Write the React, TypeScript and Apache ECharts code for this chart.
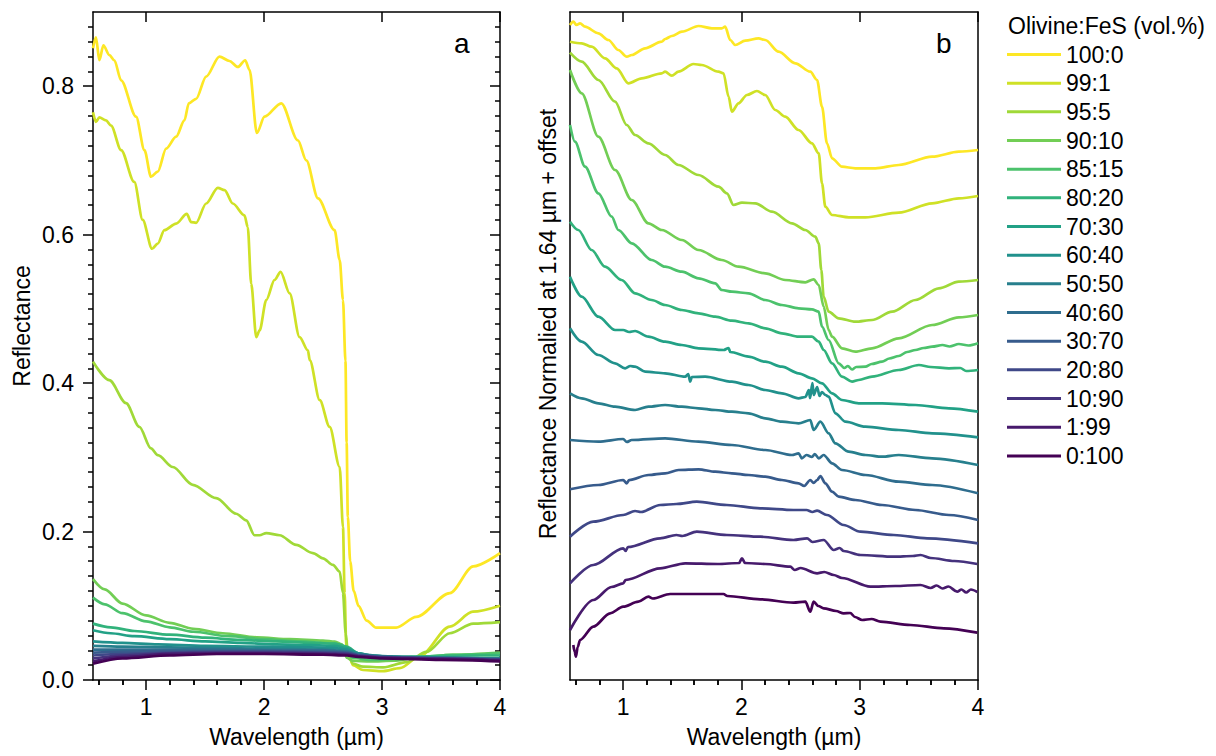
import React, { useEffect, useRef } from "react";
import * as echarts from "echarts";

const FONT = 'Arial, "Liberation Sans", Helvetica, sans-serif';

// Sample names (Olivine:FeS vol.%)
const ratios = ["100:0", "99:1", "95:5", "90:10", "85:15", "80:20", "70:30", "60:40", "50:50", "40:60", "30:70", "20:80", "10:90", "1:99", "0:100"];

// Tick values
const wavelengthMajor = [1, 2, 3, 4];
const wavelengthMinor = [0.6, 0.8, 1.2, 1.4, 1.6, 1.8, 2.2, 2.4, 2.6, 2.8, 3.2, 3.4, 3.6, 3.8];
const reflMajor = [0, 0.2, 0.4, 0.6, 0.8];

// ---- Panel a: absolute reflectance [wavelength µm, reflectance] ----
const a100 = [[0.55,0.851],[0.575,0.866],[0.604,0.835],[0.638,0.855],[0.689,0.842],[0.731,0.835],[0.788,0.808],[0.915,0.759],[0.986,0.714],[1.042,0.678],[1.099,0.685],[1.17,0.716],[1.255,0.732],[1.325,0.754],[1.362,0.777],[1.424,0.783],[1.509,0.813],[1.622,0.840],[1.707,0.834],[1.778,0.826],[1.84,0.835],[1.877,0.822],[1.939,0.737],[2.004,0.759],[2.146,0.777],[2.287,0.727],[2.358,0.700],[2.457,0.649],[2.598,0.606],[2.641,0.566],[2.669,0.512],[2.69,0.43],[2.70,0.32],[2.71,0.22],[2.73,0.16],[2.76,0.12],[2.80,0.10],[2.87,0.08],[2.95,0.0705],[3.12,0.0705],[3.29,0.085],[3.575,0.117],[3.773,0.153],[4.0,0.171]];
const a99 = [[0.55,0.765],[0.575,0.752],[0.604,0.758],[0.66,0.754],[0.703,0.747],[0.788,0.714],[0.90,0.671],[0.971,0.620],[1.051,0.581],[1.099,0.588],[1.155,0.606],[1.255,0.615],[1.345,0.628],[1.382,0.617],[1.424,0.616],[1.509,0.642],[1.608,0.663],[1.665,0.660],[1.735,0.642],[1.834,0.626],[1.862,0.610],[1.891,0.534],[1.934,0.462],[1.962,0.471],[2.019,0.512],[2.089,0.539],[2.14,0.550],[2.217,0.521],[2.301,0.462],[2.372,0.444],[2.387,0.431],[2.472,0.377],[2.556,0.341],[2.641,0.287],[2.669,0.206],[2.683,0.117],[2.697,0.045],[2.754,0.020],[2.839,0.0135],[3.009,0.012],[3.15,0.016],[3.32,0.032],[3.575,0.072],[3.77,0.092],[4.0,0.100]];
const a95 = [[0.55,0.429],[0.688,0.404],[0.83,0.373],[0.943,0.341],[1.042,0.312],[1.099,0.303],[1.226,0.287],[1.396,0.263],[1.594,0.245],[1.764,0.224],[1.849,0.215],[1.919,0.195],[1.962,0.195],[2.019,0.198],[2.132,0.195],[2.273,0.182],[2.414,0.171],[2.499,0.164],[2.584,0.155],[2.641,0.146],[2.669,0.117],[2.692,0.063],[2.711,0.035],[2.754,0.022],[2.839,0.018],[3.009,0.017],[3.207,0.024],[3.377,0.038],[3.575,0.063],[3.773,0.076],[4.0,0.078]];
const a90 = [[0.55,0.136],[0.65,0.122],[0.80,0.103],[1.0,0.087],[1.2,0.077],[1.4,0.069],[1.65,0.063],[1.94,0.0575],[2.22,0.055],[2.5,0.053],[2.6,0.0516],[2.66,0.048],[2.68,0.040],[2.7,0.030],[2.75,0.026],[2.9,0.025],[3.1,0.026],[3.3,0.030],[3.6,0.034],[4.0,0.037]];
const a85 = [[0.55,0.111],[0.65,0.102],[0.8,0.090],[1.0,0.079],[1.2,0.071],[1.4,0.065],[1.7,0.059],[2.0,0.055],[2.3,0.052],[2.6,0.049],[2.66,0.047],[2.7,0.038],[2.75,0.030],[2.9,0.027],[3.1,0.028],[3.3,0.031],[3.6,0.034],[4.0,0.036]];
const a80 = [[0.55,0.076],[0.7,0.071],[0.9,0.066],[1.2,0.061],[1.5,0.057],[1.8,0.054],[2.1,0.052],[2.4,0.050],[2.6,0.049],[2.7,0.045],[2.8,0.036],[2.9,0.032],[3.1,0.031],[3.4,0.032],[3.7,0.033],[4.0,0.033]];
const a70 = [[0.55,0.067],[0.7,0.063],[0.9,0.059],[1.2,0.055],[1.5,0.052],[1.8,0.050],[2.1,0.048],[2.4,0.047],[2.6,0.046],[2.7,0.043],[2.8,0.036],[2.9,0.033],[3.1,0.031],[3.5,0.030],[4.0,0.029]];
const a60 = [[0.55,0.052],[0.8,0.050],[1.1,0.048],[1.5,0.046],[2.0,0.045],[2.4,0.044],[2.6,0.043],[2.7,0.041],[2.8,0.036],[2.9,0.033],[3.2,0.031],[3.6,0.030],[4.0,0.029]];
const a50 = [[0.55,0.046],[0.8,0.045],[1.2,0.044],[1.6,0.043],[2.0,0.042],[2.5,0.041],[2.7,0.039],[2.8,0.035],[3.0,0.032],[3.5,0.030],[4.0,0.029]];
const a40 = [[0.55,0.041],[0.8,0.041],[1.2,0.041],[1.6,0.041],[2.0,0.040],[2.5,0.040],[2.7,0.038],[2.8,0.034],[3.0,0.031],[3.5,0.030],[4.0,0.028]];
const a30 = [[0.55,0.037],[0.8,0.038],[1.2,0.039],[1.6,0.039],[2.0,0.039],[2.5,0.038],[2.7,0.037],[2.8,0.033],[3.0,0.031],[3.5,0.029],[4.0,0.028]];
const a20 = [[0.55,0.033],[0.8,0.035],[1.2,0.037],[1.6,0.038],[2.0,0.038],[2.5,0.037],[2.7,0.036],[2.8,0.033],[3.0,0.031],[3.5,0.029],[4.0,0.027]];
const a10 = [[0.55,0.029],[0.8,0.033],[1.2,0.036],[1.6,0.037],[2.0,0.037],[2.5,0.036],[2.7,0.035],[2.8,0.032],[3.0,0.030],[3.5,0.029],[4.0,0.027]];
const a1 = [[0.55,0.025],[0.8,0.031],[1.2,0.035],[1.6,0.036],[2.0,0.036],[2.5,0.035],[2.7,0.034],[2.8,0.032],[3.0,0.030],[3.5,0.028],[4.0,0.026]];
const a0 = [[0.55,0.022],[0.8,0.029],[1.2,0.033],[1.6,0.035],[2.0,0.035],[2.5,0.034],[2.7,0.033],[2.8,0.031],[3.0,0.029],[3.5,0.027],[4.0,0.025]];

// ---- Panel b: reflectance normalized at 1.64 µm + offset ----
const b100 = [[0.55,6.55],[0.578,6.583],[0.606,6.55],[0.635,6.567],[0.677,6.533],[0.79,6.467],[0.875,6.40],[0.959,6.30],[1.03,6.233],[1.072,6.25],[1.185,6.317],[1.326,6.383],[1.354,6.41],[1.411,6.44],[1.496,6.483],[1.637,6.54],[1.75,6.517],[1.834,6.517],[1.862,6.533],[1.905,6.40],[1.947,6.35],[2.032,6.393],[2.145,6.417],[2.201,6.40],[2.314,6.283],[2.455,6.167],[2.582,6.083],[2.639,6.0],[2.681,5.733],[2.723,5.367],[2.766,5.217],[2.85,5.133],[2.963,5.117],[3.133,5.117],[3.33,5.15],[3.612,5.233],[3.838,5.283],[4.0,5.30]];
const b99 = [[0.55,6.383],[0.649,6.367],[0.733,6.333],[0.846,6.217],[0.945,6.117],[1.044,5.967],[1.157,6.017],[1.326,6.067],[1.354,6.083],[1.411,6.043],[1.467,6.083],[1.594,6.16],[1.665,6.15],[1.806,6.083],[1.848,6.067],[1.891,5.833],[1.919,5.683],[1.975,5.767],[2.046,5.85],[2.131,5.89],[2.201,5.85],[2.286,5.70],[2.37,5.633],[2.483,5.50],[2.596,5.367],[2.653,5.267],[2.681,4.967],[2.709,4.733],[2.766,4.65],[2.907,4.627],[3.048,4.627],[3.33,4.673],[3.612,4.767],[3.838,4.817],[4.0,4.84]];
const b95 = [[0.55,6.273],[0.649,6.183],[0.79,6.0],[0.931,5.783],[1.03,5.55],[1.1,5.45],[1.213,5.367],[1.354,5.25],[1.467,5.15],[1.637,5.05],[1.806,4.933],[1.877,4.867],[1.933,4.75],[2.004,4.773],[2.117,4.767],[2.258,4.683],[2.427,4.567],[2.54,4.50],[2.624,4.433],[2.653,4.367],[2.675,4.10],[2.695,3.833],[2.737,3.683],[2.822,3.617],[2.963,3.583],[3.104,3.60],[3.274,3.683],[3.471,3.80],[3.669,3.917],[3.838,3.983],[4.0,4.0]];
const b90 = [[0.55,6.10],[0.649,5.867],[0.79,5.433],[0.931,5.10],[1.072,4.80],[1.213,4.567],[1.326,4.50],[1.496,4.40],[1.637,4.30],[1.834,4.20],[1.975,4.133],[2.201,4.067],[2.37,4.0],[2.54,3.977],[2.61,4.007],[2.653,3.95],[2.695,3.733],[2.737,3.50],[2.766,3.433],[2.85,3.317],[2.963,3.283],[3.104,3.317],[3.33,3.417],[3.612,3.55],[3.838,3.627],[4.0,3.65]];
const b85 = [[0.55,5.55],[0.592,5.383],[0.677,5.133],[0.79,4.867],[0.903,4.633],[0.959,4.50],[1.072,4.367],[1.241,4.20],[1.354,4.133],[1.496,4.083],[1.637,4.017],[1.778,3.967],[1.834,3.90],[1.919,3.883],[2.06,3.867],[2.201,3.80],[2.342,3.75],[2.483,3.717],[2.596,3.707],[2.653,3.683],[2.681,3.533],[2.737,3.40],[2.822,3.167],[2.87,3.12],[2.9,3.14],[2.935,3.105],[2.97,3.13],[3.048,3.133],[3.1,3.16],[3.189,3.183],[3.25,3.215],[3.33,3.24],[3.4,3.28],[3.471,3.30],[3.54,3.32],[3.612,3.333],[3.7,3.35],[3.76,3.335],[3.838,3.36],[3.92,3.345],[4.0,3.367]];
const b80 = [[0.55,4.583],[0.62,4.50],[0.733,4.30],[0.846,4.133],[0.987,4.0],[1.1,3.867],[1.241,3.80],[1.354,3.75],[1.496,3.70],[1.637,3.667],[1.778,3.633],[1.919,3.593],[2.06,3.567],[2.201,3.517],[2.342,3.467],[2.483,3.433],[2.596,3.433],[2.653,3.383],[2.695,3.30],[2.766,3.167],[2.85,3.033],[2.935,2.983],[2.991,3.0],[3.104,3.033],[3.33,3.10],[3.5,3.15],[3.6,3.13],[3.754,3.117],[3.85,3.12],[3.9,3.09],[4.0,3.10]];
const b70 = [[0.55,4.033],[0.649,3.833],[0.79,3.633],[0.931,3.50],[1.0,3.50],[1.05,3.48],[1.1,3.49],[1.213,3.433],[1.354,3.383],[1.496,3.35],[1.637,3.317],[1.85,3.30],[1.891,3.32],[1.905,3.28],[2.06,3.233],[2.201,3.183],[2.342,3.133],[2.483,3.067],[2.596,3.017],[2.681,2.967],[2.766,2.867],[2.85,2.80],[2.991,2.767],[3.189,2.767],[3.471,2.75],[3.754,2.717],[4.0,2.683]];
const b60 = [[0.55,3.517],[0.649,3.383],[0.79,3.25],[0.931,3.167],[1.016,3.117],[1.06,3.14],[1.1,3.133],[1.185,3.083],[1.354,3.067],[1.524,3.033],[1.55,3.06],[1.566,2.983],[1.58,3.03],[1.693,3.033],[1.919,2.983],[2.06,2.95],[2.201,2.90],[2.342,2.867],[2.483,2.817],[2.54,2.83],[2.57,2.90],[2.58,2.82],[2.60,2.97],[2.61,2.85],[2.64,2.93],[2.66,2.84],[2.68,2.88],[2.71,2.85],[2.737,2.833],[2.794,2.667],[2.879,2.583],[3.048,2.533],[3.33,2.50],[3.612,2.467],[4.0,2.427]];
const b50 = [[0.55,2.867],[0.649,2.817],[0.79,2.767],[0.931,2.733],[1.1,2.70],[1.213,2.733],[1.354,2.75],[1.496,2.733],[1.637,2.717],[1.778,2.70],[1.919,2.683],[2.06,2.667],[2.201,2.617],[2.342,2.583],[2.483,2.567],[2.582,2.60],[2.61,2.50],[2.667,2.583],[2.737,2.467],[2.794,2.367],[2.907,2.283],[3.048,2.25],[3.189,2.233],[3.33,2.25],[3.612,2.217],[4.0,2.15]];
const b40 = [[0.55,2.40],[0.79,2.383],[1.0,2.41],[1.03,2.38],[1.072,2.40],[1.354,2.417],[1.637,2.383],[1.919,2.35],[2.201,2.30],[2.427,2.25],[2.483,2.267],[2.51,2.217],[2.55,2.25],[2.596,2.23],[2.62,2.26],[2.653,2.217],[2.695,2.25],[2.766,2.167],[2.85,2.10],[3.048,2.05],[3.33,1.983],[3.612,1.95],[4.0,1.867]];
const b30 = [[0.55,1.907],[0.79,1.95],[1.0,2.0],[1.03,1.967],[1.05,2.0],[1.213,2.05],[1.354,2.067],[1.467,2.10],[1.637,2.107],[1.778,2.083],[1.919,2.067],[2.06,2.05],[2.201,2.033],[2.342,2.0],[2.483,1.967],[2.53,1.94],[2.582,2.0],[2.61,1.97],[2.64,2.0],[2.667,2.04],[2.709,1.967],[2.766,1.883],[2.822,1.833],[2.963,1.80],[3.189,1.75],[3.471,1.70],[3.754,1.65],[4.0,1.60]];
const b20 = [[0.55,1.433],[0.747,1.583],[1.0,1.65],[1.1,1.69],[1.15,1.68],[1.312,1.75],[1.45,1.76],[1.622,1.783],[1.876,1.75],[2.159,1.717],[2.44,1.70],[2.55,1.70],[2.6,1.68],[2.639,1.693],[2.723,1.65],[2.864,1.55],[3.006,1.483],[3.288,1.45],[3.57,1.417],[4.0,1.367]];
const b10 = [[0.55,0.967],[0.747,1.15],[1.0,1.317],[1.02,1.29],[1.04,1.33],[1.312,1.417],[1.45,1.45],[1.5,1.44],[1.622,1.483],[1.876,1.45],[2.159,1.433],[2.44,1.40],[2.555,1.417],[2.6,1.38],[2.695,1.40],[2.78,1.30],[2.83,1.32],[2.864,1.29],[3.006,1.25],[3.288,1.233],[3.45,1.24],[3.514,1.25],[3.6,1.22],[3.8,1.19],[3.994,1.16]];
const b1 = [[0.55,0.50],[0.747,0.80],[0.9,0.93],[1.0,0.967],[1.02,1.0],[1.312,1.117],[1.524,1.167],[1.8,1.16],[1.98,1.17],[2.004,1.217],[2.03,1.17],[2.2,1.16],[2.413,1.133],[2.45,1.10],[2.5,1.12],[2.639,1.067],[2.70,1.08],[2.78,1.05],[2.85,1.02],[3.09,0.933],[3.3,0.94],[3.514,0.95],[3.6,0.92],[3.65,0.945],[3.7,0.915],[3.75,0.935],[3.824,0.883],[3.86,0.905],[3.9,0.875],[3.94,0.905],[3.994,0.88]];
const b0 = [[0.578,0.35],[0.59,0.28],[0.60,0.233],[0.615,0.33],[0.635,0.40],[0.747,0.533],[0.889,0.667],[1.0,0.733],[1.128,0.783],[1.213,0.833],[1.25,0.815],[1.397,0.86],[1.594,0.86],[1.848,0.86],[1.88,0.84],[2.159,0.807],[2.44,0.773],[2.54,0.783],[2.582,0.683],[2.61,0.783],[2.65,0.74],[2.695,0.717],[2.80,0.69],[2.864,0.667],[2.92,0.67],[2.96,0.63],[3.02,0.60],[3.1,0.61],[3.175,0.583],[3.429,0.55],[3.711,0.517],[3.994,0.473]];

const panelA = [a100, a99, a95, a90, a85, a80, a70, a60, a50, a40, a30, a20, a10, a1, a0];
const panelB = [b100, b99, b95, b90, b85, b80, b70, b60, b50, b40, b30, b20, b10, b1, b0];

// viridis colour map stops
const VIRIDIS = [[68,1,84],[72,36,117],[65,68,135],[53,95,141],[42,120,142],[33,145,140],[34,168,132],[68,191,112],[122,209,81],[189,223,38],[253,231,37]];
function viridis(t: number): string {
  const s = Math.max(0, Math.min(1, t)) * 10;
  const i = Math.min(9, Math.floor(s));
  const f = s - i;
  const c = VIRIDIS[i].map((v, k) => Math.round(v + (VIRIDIS[i + 1][k] - v) * f));
  return `rgb(${c[0]},${c[1]},${c[2]})`;
}
const colors = ratios.map((_, k) => viridis(1 - k / (ratios.length - 1)));

const reflMinor: number[] = [];
for (let k = 1; k < 45; k++) {
  if (k % 10 !== 0) reflMinor.push(Math.round(k * 2) / 100);
}

const BLACK = "#000";
const AXIS_LINE = { show: true, onZero: false, lineStyle: { color: BLACK, width: 1.5 } };
const textBase = { color: BLACK, fontSize: 23, fontFamily: FONT };

function tickAxis(gridIndex: number, position: string, min: number, max: number, values: number[] | null, len: number, inside: boolean, showLine: boolean) {
  return {
    type: "value",
    gridIndex,
    position,
    min,
    max,
    splitLine: { show: false },
    axisLine: showLine ? AXIS_LINE : { show: false },
    axisLabel: { show: false },
    axisTick: values
      ? { show: true, customValues: values, length: len, inside, lineStyle: { color: BLACK, width: 1.5 } }
      : { show: false },
  };
}

function buildOption() {
  const X0 = 0.55, X1 = 4;
  const xAxes: any[] = [];
  const yAxes: any[] = [];
  [0, 1].forEach((g) => {
    const bottom: any = tickAxis(g, "bottom", X0, X1, wavelengthMajor, 10, false, true);
    bottom.axisLabel = { show: true, customValues: wavelengthMajor, margin: 15, ...textBase, formatter: (v: number) => String(v) };
    bottom.name = "Wavelength (µm)";
    bottom.nameLocation = "middle";
    bottom.nameGap = 45;
    bottom.nameTextStyle = { ...textBase };
    xAxes.push(bottom);
    xAxes.push(tickAxis(g, "bottom", X0, X1, wavelengthMinor, 5, false, false));
    xAxes.push(tickAxis(g, "top", X0, X1, wavelengthMajor, 10, true, true));
    xAxes.push(tickAxis(g, "top", X0, X1, wavelengthMinor, 5, true, false));
  });
  // panel a y axes
  const yLeft: any = tickAxis(0, "left", 0, 0.9, reflMajor, 10, false, true);
  yLeft.axisLabel = { show: true, customValues: reflMajor, margin: 19, ...textBase, formatter: (v: number) => v.toFixed(1) };
  yLeft.name = "Reflectance";
  yLeft.nameLocation = "middle";
  yLeft.nameGap = 60;
  yLeft.nameTextStyle = { ...textBase, padding: [0, 0, 0, 40] };
  yAxes.push(yLeft);
  yAxes.push(tickAxis(0, "left", 0, 0.9, reflMinor, 5, false, false));
  yAxes.push(tickAxis(0, "right", 0, 0.9, reflMajor, 10, true, true));
  yAxes.push(tickAxis(0, "right", 0, 0.9, reflMinor, 5, true, false));
  // panel b y axes
  const yLeftB: any = tickAxis(1, "left", 0, 6.68, null, 0, false, true);
  yLeftB.name = "Reflectance Normalied at 1.64 µm + offset";
  yLeftB.nameLocation = "middle";
  yLeftB.nameGap = 11;
  yLeftB.nameTextStyle = { ...textBase, padding: [0, 0, 0, 44] };
  yAxes.push(yLeftB);
  yAxes.push(tickAxis(1, "right", 0, 6.68, null, 0, false, true));

  const series: any[] = [];
  const mk = (name: string, k: number, data: number[][], xi: number, yi: number) => ({
    type: "line", name, xAxisIndex: xi, yAxisIndex: yi, data,
    showSymbol: false, smooth: 0.3, smoothMonotone: "x",
    lineStyle: { width: 2.7, color: colors[k] }, itemStyle: { color: colors[k] },
  });
  ratios.forEach((name, k) => series.push(mk(name, k, panelA[k], 0, 0)));
  ratios.forEach((name, k) => series.push(mk(name, k, panelB[k], 4, 4)));

  return {
    animation: false,
    backgroundColor: "#fff",
    title: {
      text: "Olivine:FeS (vol.%)", left: 1008, top: 14, padding: 0,
      textStyle: { ...textBase, fontWeight: "normal" },
    },
    legend: {
      data: ratios, orient: "vertical", left: 1007, top: 43, padding: 0,
      itemWidth: 54, itemHeight: 3, itemGap: 5.67, icon: "rect", selectedMode: false,
      textStyle: { ...textBase, lineHeight: 23 },
    },
    grid: [
      { left: 93, top: 12, width: 407, height: 668, containLabel: false, outerBoundsMode: "none" },
      { left: 570, top: 12, width: 408, height: 668, containLabel: false, outerBoundsMode: "none" },
    ],
    xAxis: xAxes,
    yAxis: yAxes,
    graphic: [
      { type: "text", left: 454, top: 29, style: { text: "a", font: `28px ${FONT}`, fill: BLACK } },
      { type: "text", left: 936, top: 29, style: { text: "b", font: `28px ${FONT}`, fill: BLACK } },
    ],
    series,
  };
}

export default function App() {
  const ref = useRef<HTMLDivElement>(null);
  useEffect(() => {
    if (!ref.current) return;
    const chart = echarts.init(ref.current, null, { renderer: "svg" });
    chart.setOption(buildOption() as any);
    return () => chart.dispose();
  }, []);
  return <div ref={ref} style={{ position: "fixed", left: 0, top: 0, width: 1216, height: 756, background: "#fff" }} />;
}
